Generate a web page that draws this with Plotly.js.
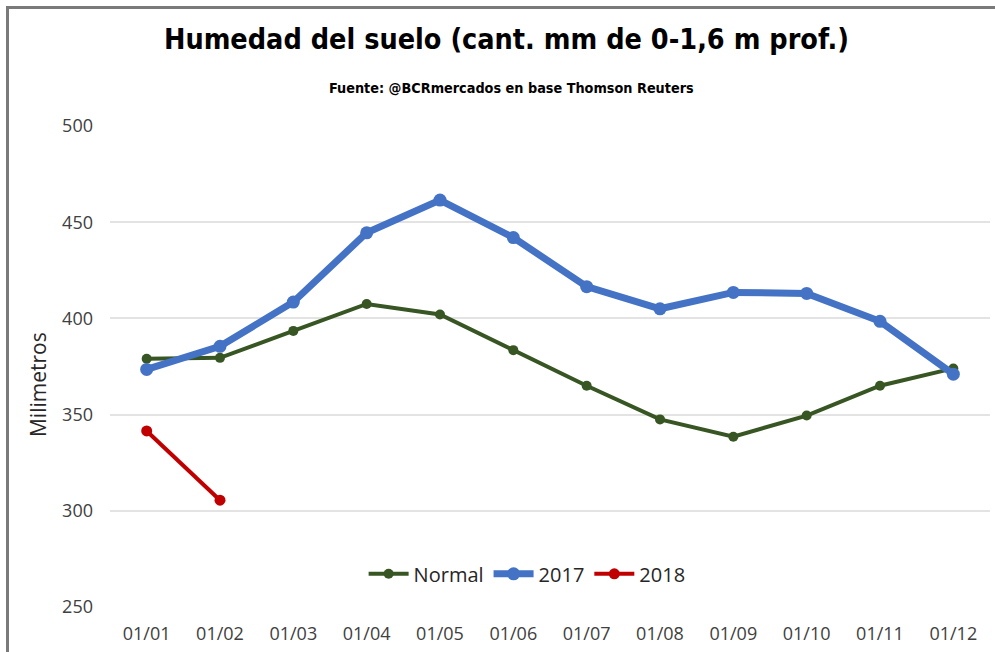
<!DOCTYPE html>
<html>
<head>
<meta charset="utf-8">
<script src="https://cdn.plot.ly/plotly-3.0.1.min.js"></script>
<style>
  html, body { margin: 0; padding: 0; background: #fff; }
  #wrap { position: relative; width: 995px; height: 652px; overflow: hidden; }
  #chart { position: absolute; left: 0; top: 0; width: 995px; height: 652px; }
  #frame { position: absolute; left: 6px; top: 6px; width: 995px; height: 652px;
           border-left: 3px solid #7a7a7a; border-top: 3px solid #7a7a7a; pointer-events: none; }
</style>
</head>
<body>
<div id="wrap">
  <div id="chart"></div>
  <div id="frame"></div>
</div>
<script>
const months = ["01/01","01/02","01/03","01/04","01/05","01/06","01/07","01/08","01/09","01/10","01/11","01/12"];
const normal = [379, 379.5, 393.5, 407.5, 402, 383.5, 365, 347.5, 338.5, 349.5, 365, 374];
const y2017  = [373.5, 385.5, 408.5, 444.5, 461.5, 442, 416.5, 405, 413.5, 413, 398.5, 371];
const y2018  = [341.5, 305.5];

const traces = [
  { x: months, y: normal, name: "Normal", type: "scatter", mode: "lines+markers",
    line: { color: "#375623", width: 4 }, marker: { color: "#375623", size: 10 } },
  { x: months, y: y2017, name: "2017", type: "scatter", mode: "lines+markers",
    line: { color: "#4472C4", width: 7 }, marker: { color: "#4472C4", size: 13 } },
  { x: months.slice(0, y2018.length), y: y2018, name: "2018", type: "scatter", mode: "lines+markers",
    line: { color: "#C00000", width: 4 }, marker: { color: "#C00000", size: 11 } }
];

const layout = {
  width: 995, height: 652,
  margin: { l: 110, r: 5, t: 126, b: 45 },
  paper_bgcolor: "#ffffff", plot_bgcolor: "#ffffff",
  showlegend: true,
  legend: { orientation: "h", x: 0.474, xanchor: "center", y: 0.069, yanchor: "middle",
            font: { family: "Open Sans", size: 20, color: "#262626" }, itemwidth: 40,
            traceorder: "normal", bgcolor: "rgba(0,0,0,0)" },
  title: { text: "<b>Humedad del suelo (cant. mm de 0-1,6 m prof.)</b>",
           font: { family: "DejaVu Sans Condensed", size: 28.5, color: "#000000" },
           x: 0.509, xref: "container", xanchor: "center", y: 0.94, yref: "container", yanchor: "middle" },
  annotations: [
    { text: "<b>Fuente: @BCRmercados en base Thomson Reuters</b>", xref: "paper", yref: "paper",
      x: 0.456, y: 1.079, xanchor: "center", yanchor: "middle", showarrow: false,
      font: { family: "DejaVu Sans Condensed", size: 14.3, color: "#000000" } },
    { text: "Milimetros", xref: "paper", yref: "paper", x: -0.0818, y: 0.4615,
      xanchor: "center", yanchor: "middle", textangle: -90, showarrow: false,
      font: { family: "Open Sans", size: 21, color: "#262626" } }
  ],
  xaxis: { type: "category", range: [-0.5, 11.5], showgrid: false, zeroline: false,
           showline: false, ticks: "", fixedrange: true,
           tickfont: { family: "Open Sans", size: 18, color: "#404040" }, ticklabelstandoff: 14 },
  yaxis: { range: [250, 500], dtick: 50, tick0: 250, showgrid: true, gridcolor: "#e3e3e3", gridwidth: 2,
           zeroline: false, showline: false, ticks: "", fixedrange: true,
           tickfont: { family: "Open Sans", size: 18, color: "#404040" }, ticklabelstandoff: 16 }
};

Plotly.newPlot("chart", traces, layout, { displayModeBar: false, staticPlot: true });
</script>
</body>
</html>
